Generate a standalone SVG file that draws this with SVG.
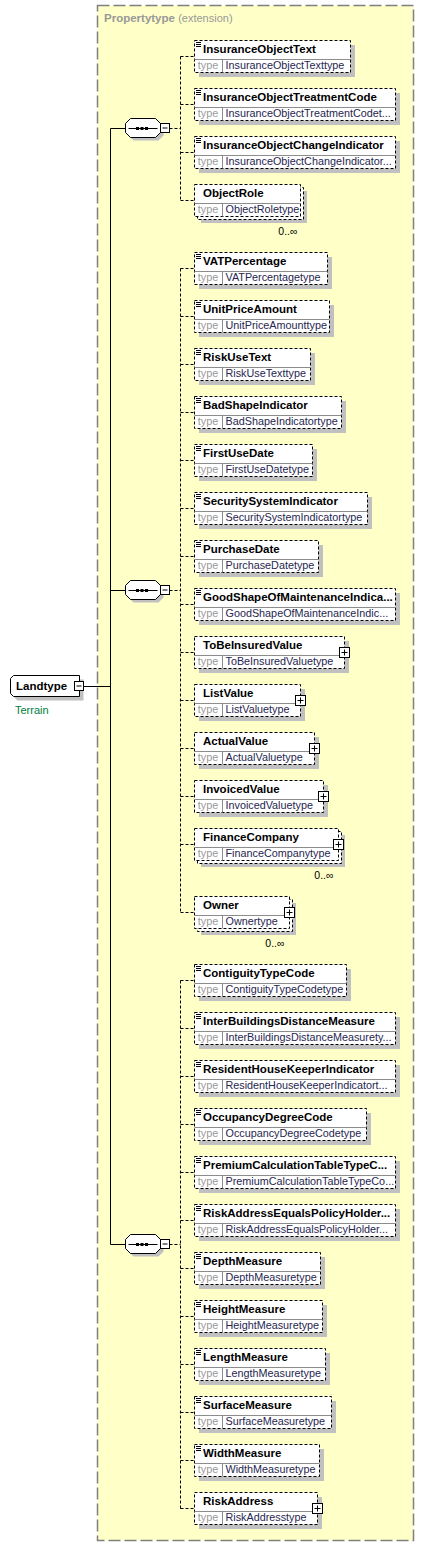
<svg xmlns="http://www.w3.org/2000/svg" xmlns:xlink="http://www.w3.org/1999/xlink" width="424" height="1547" viewBox="0 0 424 1547">
<style>
.sh{fill:#c0c0c0}
.bx{fill:#fff;stroke:#000;stroke-dasharray:3 2}
.dv{stroke:#8c8c8c;fill:none}
.nm{font:bold 11.5px "Liberation Sans",Arial,sans-serif;fill:#000}
.tl{font:10.8px "Liberation Sans",Arial,sans-serif;fill:#9a9a9a;text-anchor:middle}
.tv{font:10.8px "Liberation Sans",Arial,sans-serif;fill:#262650}
.pl{fill:#fff;stroke:#000}
.oc{font:10.5px "Liberation Sans",Arial,sans-serif;fill:#000;text-anchor:end}
.sol{stroke:#000;fill:none}
.dsh{stroke:#000;fill:none;stroke-dasharray:3 2}
</style>
<defs>
<path id="ico" d="M1.5 2H6.5M1.5 4H6.5M1.5 6H6.5" stroke="#000"/>
<g id="plus"><rect class="pl" x="-5" y="-5" width="10" height="10"/><path d="M-3 0H3M0 -3V3" stroke="#000"/></g>
<g id="seq">
<path class="sh" d="M8 -7H33L38 -2V7L33 12H8L3 7V-2Z"/>
<path d="M5 -10H30L35 -5V4L30 9H5L0 4V-5Z" fill="#fff" stroke="#000"/>
<path d="M3 0H32" stroke="#000"/>
<rect x="10.5" y="-1.5" width="3" height="3" fill="#000"/><rect x="15" y="-1.5" width="3" height="3" fill="#000"/><rect x="19.5" y="-1.5" width="3" height="3" fill="#000"/>
<rect class="pl" x="35" y="-5" width="9" height="9"/><path d="M37 -0.5H42" stroke="#000"/>
</g>
</defs>
<g id="extension">
<rect x="97.5" y="5.5" width="316" height="1535" fill="#ffffc8" stroke="#808080" stroke-width="1.5" stroke-dasharray="12 4"/>
<text x="104" y="22" style="font:bold 11.5px 'Liberation Sans',Arial,sans-serif;fill:#999">Propertytype <tspan style="font-weight:normal;font-size:11px">(extension)</tspan></text>
</g>
<g id="connectors">
<path class="sol" d="M83.5 686.5H110.5M110.5 128.5V1244.5M110.5 128.5H125.5M110.5 590.5H125.5M110.5 1244.5H125.5"/>
<path class="dsh" d="M169.5 128.5H180.5M169.5 590.5H180.5M169.5 1244.5H180.5"/>
<path class="dsh" d="M180.5 56.5V200.5M180.5 56.5H194.5M180.5 104.5H194.5M180.5 152.5H194.5M180.5 200.5H194.5"/>
<path class="dsh" d="M180.5 268.5V912.5M180.5 268.5H194.5M180.5 316.5H194.5M180.5 364.5H194.5M180.5 412.5H194.5M180.5 460.5H194.5M180.5 508.5H194.5M180.5 556.5H194.5M180.5 604.5H194.5M180.5 652.5H194.5M180.5 700.5H194.5M180.5 748.5H194.5M180.5 796.5H194.5M180.5 844.5H194.5M180.5 912.5H194.5"/>
<path class="dsh" d="M180.5 980.5V1508.5M180.5 980.5H194.5M180.5 1028.5H194.5M180.5 1076.5H194.5M180.5 1124.5H194.5M180.5 1172.5H194.5M180.5 1220.5H194.5M180.5 1268.5H194.5M180.5 1316.5H194.5M180.5 1364.5H194.5M180.5 1412.5H194.5M180.5 1460.5H194.5M180.5 1508.5H194.5"/>
</g>
<g id="Landtype">
<path class="sh" d="M17.5 679.5H83.5V700.5H17.5L14.5 697.5V682.5Z"/>
<path d="M13.5 675.5H79.5V696.5H13.5L10.5 693.5V678.5Z" fill="#fff" stroke="#000"/>
<text class="nm" x="16" y="690">Landtype</text>
<rect class="pl" x="74.5" y="681.5" width="9" height="9"/><path d="M76.5 686H81.5" stroke="#000"/>
<text x="15" y="714" style="font:11px 'Liberation Sans',Arial,sans-serif;fill:#008040">Terrain</text>
</g>
<g id="seq1" transform="translate(125.5,128.5)"><use href="#seq"/></g>
<g id="seq2" transform="translate(125.5,590.5)"><use href="#seq"/></g>
<g id="seq3" transform="translate(125.5,1244.5)"><use href="#seq"/></g>

<g id="InsuranceObjectText" transform="translate(194.5,40.5)"><rect class="sh" x="4.5" y="4.5" width="156" height="32"/><rect class="bx" width="156" height="32"/><path class="dv" d="M0 19H156M28 19V32"/><use href="#ico"/><text class="nm" x="8.5" y="12">InsuranceObjectText</text><text class="tl" x="13.5" y="28.5">type</text><text class="tv" x="31" y="28.5">InsuranceObjectTexttype</text></g>
<g id="InsuranceObjectTreatmentCode" transform="translate(194.5,88.5)"><rect class="sh" x="4.5" y="4.5" width="201" height="32"/><rect class="bx" width="201" height="32"/><path class="dv" d="M0 19H201M28 19V32"/><use href="#ico"/><text class="nm" x="8.5" y="12">InsuranceObjectTreatmentCode</text><text class="tl" x="13.5" y="28.5">type</text><text class="tv" x="31" y="28.5">InsuranceObjectTreatmentCodet...</text></g>
<g id="InsuranceObjectChangeIndicator" transform="translate(194.5,136.5)"><rect class="sh" x="4.5" y="4.5" width="201" height="32"/><rect class="bx" width="201" height="32"/><path class="dv" d="M0 19H201M28 19V32"/><use href="#ico"/><text class="nm" x="8.5" y="12">InsuranceObjectChangeIndicator</text><text class="tl" x="13.5" y="28.5">type</text><text class="tv" x="31" y="28.5">InsuranceObjectChangeIndicator...</text></g>
<g id="ObjectRole" transform="translate(194.5,184.5)"><rect class="sh" x="6.5" y="6.5" width="106" height="32"/><rect class="bx" x="3" y="3" width="106" height="32"/><rect class="bx" width="106" height="32"/><path class="dv" d="M0 19H106M28 19V32"/><text class="nm" x="8.5" y="12">ObjectRole</text><text class="tl" x="13.5" y="28.5">type</text><text class="tv" x="31" y="28.5">ObjectRoletype</text><text class="oc" x="103" y="50">0..∞</text></g>

<g id="VATPercentage" transform="translate(194.5,252.5)"><rect class="sh" x="4.5" y="4.5" width="133" height="32"/><rect class="bx" width="133" height="32"/><path class="dv" d="M0 19H133M28 19V32"/><use href="#ico"/><text class="nm" x="8.5" y="12">VATPercentage</text><text class="tl" x="13.5" y="28.5">type</text><text class="tv" x="31" y="28.5">VATPercentagetype</text></g>
<g id="UnitPriceAmount" transform="translate(194.5,300.5)"><rect class="sh" x="4.5" y="4.5" width="135" height="32"/><rect class="bx" width="135" height="32"/><path class="dv" d="M0 19H135M28 19V32"/><use href="#ico"/><text class="nm" x="8.5" y="12">UnitPriceAmount</text><text class="tl" x="13.5" y="28.5">type</text><text class="tv" x="31" y="28.5">UnitPriceAmounttype</text></g>
<g id="RiskUseText" transform="translate(194.5,348.5)"><rect class="sh" x="4.5" y="4.5" width="116" height="32"/><rect class="bx" width="116" height="32"/><path class="dv" d="M0 19H116M28 19V32"/><use href="#ico"/><text class="nm" x="8.5" y="12">RiskUseText</text><text class="tl" x="13.5" y="28.5">type</text><text class="tv" x="31" y="28.5">RiskUseTexttype</text></g>
<g id="BadShapeIndicator" transform="translate(194.5,396.5)"><rect class="sh" x="4.5" y="4.5" width="147" height="32"/><rect class="bx" width="147" height="32"/><path class="dv" d="M0 19H147M28 19V32"/><use href="#ico"/><text class="nm" x="8.5" y="12">BadShapeIndicator</text><text class="tl" x="13.5" y="28.5">type</text><text class="tv" x="31" y="28.5">BadShapeIndicatortype</text></g>
<g id="FirstUseDate" transform="translate(194.5,444.5)"><rect class="sh" x="4.5" y="4.5" width="118" height="32"/><rect class="bx" width="118" height="32"/><path class="dv" d="M0 19H118M28 19V32"/><use href="#ico"/><text class="nm" x="8.5" y="12">FirstUseDate</text><text class="tl" x="13.5" y="28.5">type</text><text class="tv" x="31" y="28.5">FirstUseDatetype</text></g>
<g id="SecuritySystemIndicator" transform="translate(194.5,492.5)"><rect class="sh" x="4.5" y="4.5" width="173" height="32"/><rect class="bx" width="173" height="32"/><path class="dv" d="M0 19H173M28 19V32"/><use href="#ico"/><text class="nm" x="8.5" y="12">SecuritySystemIndicator</text><text class="tl" x="13.5" y="28.5">type</text><text class="tv" x="31" y="28.5">SecuritySystemIndicatortype</text></g>
<g id="PurchaseDate" transform="translate(194.5,540.5)"><rect class="sh" x="4.5" y="4.5" width="124" height="32"/><rect class="bx" width="124" height="32"/><path class="dv" d="M0 19H124M28 19V32"/><use href="#ico"/><text class="nm" x="8.5" y="12">PurchaseDate</text><text class="tl" x="13.5" y="28.5">type</text><text class="tv" x="31" y="28.5">PurchaseDatetype</text></g>
<g id="GoodShapeOfMaintenanceIndicator" transform="translate(194.5,588.5)"><rect class="sh" x="4.5" y="4.5" width="201" height="32"/><rect class="bx" width="201" height="32"/><path class="dv" d="M0 19H201M28 19V32"/><use href="#ico"/><text class="nm" x="8.5" y="12">GoodShapeOfMaintenanceIndica...</text><text class="tl" x="13.5" y="28.5">type</text><text class="tv" x="31" y="28.5">GoodShapeOfMaintenanceIndic...</text></g>
<g id="ToBeInsuredValue" transform="translate(194.5,636.5)"><rect class="sh" x="4.5" y="4.5" width="150" height="32"/><rect class="bx" width="150" height="32"/><path class="dv" d="M0 19H150M28 19V32"/><text class="nm" x="8.5" y="12">ToBeInsuredValue</text><text class="tl" x="13.5" y="28.5">type</text><text class="tv" x="31" y="28.5">ToBeInsuredValuetype</text><use href="#plus" x="150" y="16"/></g>
<g id="ListValue" transform="translate(194.5,684.5)"><rect class="sh" x="4.5" y="4.5" width="106" height="32"/><rect class="bx" width="106" height="32"/><path class="dv" d="M0 19H106M28 19V32"/><text class="nm" x="8.5" y="12">ListValue</text><text class="tl" x="13.5" y="28.5">type</text><text class="tv" x="31" y="28.5">ListValuetype</text><use href="#plus" x="106" y="16"/></g>
<g id="ActualValue" transform="translate(194.5,732.5)"><rect class="sh" x="4.5" y="4.5" width="120" height="32"/><rect class="bx" width="120" height="32"/><path class="dv" d="M0 19H120M28 19V32"/><text class="nm" x="8.5" y="12">ActualValue</text><text class="tl" x="13.5" y="28.5">type</text><text class="tv" x="31" y="28.5">ActualValuetype</text><use href="#plus" x="120" y="16"/></g>
<g id="InvoicedValue" transform="translate(194.5,780.5)"><rect class="sh" x="4.5" y="4.5" width="129" height="32"/><rect class="bx" width="129" height="32"/><path class="dv" d="M0 19H129M28 19V32"/><text class="nm" x="8.5" y="12">InvoicedValue</text><text class="tl" x="13.5" y="28.5">type</text><text class="tv" x="31" y="28.5">InvoicedValuetype</text><use href="#plus" x="129" y="16"/></g>
<g id="FinanceCompany" transform="translate(194.5,828.5)"><rect class="sh" x="6.5" y="6.5" width="144" height="32"/><rect class="bx" x="3" y="3" width="144" height="32"/><rect class="bx" width="144" height="32"/><path class="dv" d="M0 19H144M28 19V32"/><text class="nm" x="8.5" y="12">FinanceCompany</text><text class="tl" x="13.5" y="28.5">type</text><text class="tv" x="31" y="28.5">FinanceCompanytype</text><use href="#plus" x="144" y="16"/><text class="oc" x="139" y="50">0..∞</text></g>
<g id="Owner" transform="translate(194.5,896.5)"><rect class="sh" x="6.5" y="6.5" width="95" height="32"/><rect class="bx" x="3" y="3" width="95" height="32"/><rect class="bx" width="95" height="32"/><path class="dv" d="M0 19H95M28 19V32"/><text class="nm" x="8.5" y="12">Owner</text><text class="tl" x="13.5" y="28.5">type</text><text class="tv" x="31" y="28.5">Ownertype</text><use href="#plus" x="95" y="16"/><text class="oc" x="90" y="50">0..∞</text></g>

<g id="ContiguityTypeCode" transform="translate(194.5,964.5)"><rect class="sh" x="4.5" y="4.5" width="152" height="32"/><rect class="bx" width="152" height="32"/><path class="dv" d="M0 19H152M28 19V32"/><use href="#ico"/><text class="nm" x="8.5" y="12">ContiguityTypeCode</text><text class="tl" x="13.5" y="28.5">type</text><text class="tv" x="31" y="28.5">ContiguityTypeCodetype</text></g>
<g id="InterBuildingsDistanceMeasure" transform="translate(194.5,1012.5)"><rect class="sh" x="4.5" y="4.5" width="201" height="32"/><rect class="bx" width="201" height="32"/><path class="dv" d="M0 19H201M28 19V32"/><use href="#ico"/><text class="nm" x="8.5" y="12">InterBuildingsDistanceMeasure</text><text class="tl" x="13.5" y="28.5">type</text><text class="tv" x="31" y="28.5">InterBuildingsDistanceMeasurety...</text></g>
<g id="ResidentHouseKeeperIndicator" transform="translate(194.5,1060.5)"><rect class="sh" x="4.5" y="4.5" width="201" height="32"/><rect class="bx" width="201" height="32"/><path class="dv" d="M0 19H201M28 19V32"/><use href="#ico"/><text class="nm" x="8.5" y="12">ResidentHouseKeeperIndicator</text><text class="tl" x="13.5" y="28.5">type</text><text class="tv" x="31" y="28.5">ResidentHouseKeeperIndicatort...</text></g>
<g id="OccupancyDegreeCode" transform="translate(194.5,1108.5)"><rect class="sh" x="4.5" y="4.5" width="172" height="32"/><rect class="bx" width="172" height="32"/><path class="dv" d="M0 19H172M28 19V32"/><use href="#ico"/><text class="nm" x="8.5" y="12">OccupancyDegreeCode</text><text class="tl" x="13.5" y="28.5">type</text><text class="tv" x="31" y="28.5">OccupancyDegreeCodetype</text></g>
<g id="PremiumCalculationTableTypeCode" transform="translate(194.5,1156.5)"><rect class="sh" x="4.5" y="4.5" width="201" height="32"/><rect class="bx" width="201" height="32"/><path class="dv" d="M0 19H201M28 19V32"/><use href="#ico"/><text class="nm" x="8.5" y="12">PremiumCalculationTableTypeC...</text><text class="tl" x="13.5" y="28.5">type</text><text class="tv" x="31" y="28.5">PremiumCalculationTableTypeCo...</text></g>
<g id="RiskAddressEqualsPolicyHolder" transform="translate(194.5,1204.5)"><rect class="sh" x="4.5" y="4.5" width="201" height="32"/><rect class="bx" width="201" height="32"/><path class="dv" d="M0 19H201M28 19V32"/><use href="#ico"/><text class="nm" x="8.5" y="12">RiskAddressEqualsPolicyHolder...</text><text class="tl" x="13.5" y="28.5">type</text><text class="tv" x="31" y="28.5">RiskAddressEqualsPolicyHolder...</text></g>
<g id="DepthMeasure" transform="translate(194.5,1252.5)"><rect class="sh" x="4.5" y="4.5" width="126" height="32"/><rect class="bx" width="126" height="32"/><path class="dv" d="M0 19H126M28 19V32"/><use href="#ico"/><text class="nm" x="8.5" y="12">DepthMeasure</text><text class="tl" x="13.5" y="28.5">type</text><text class="tv" x="31" y="28.5">DepthMeasuretype</text></g>
<g id="HeightMeasure" transform="translate(194.5,1300.5)"><rect class="sh" x="4.5" y="4.5" width="128" height="32"/><rect class="bx" width="128" height="32"/><path class="dv" d="M0 19H128M28 19V32"/><use href="#ico"/><text class="nm" x="8.5" y="12">HeightMeasure</text><text class="tl" x="13.5" y="28.5">type</text><text class="tv" x="31" y="28.5">HeightMeasuretype</text></g>
<g id="LengthMeasure" transform="translate(194.5,1348.5)"><rect class="sh" x="4.5" y="4.5" width="131" height="32"/><rect class="bx" width="131" height="32"/><path class="dv" d="M0 19H131M28 19V32"/><use href="#ico"/><text class="nm" x="8.5" y="12">LengthMeasure</text><text class="tl" x="13.5" y="28.5">type</text><text class="tv" x="31" y="28.5">LengthMeasuretype</text></g>
<g id="SurfaceMeasure" transform="translate(194.5,1396.5)"><rect class="sh" x="4.5" y="4.5" width="137" height="32"/><rect class="bx" width="137" height="32"/><path class="dv" d="M0 19H137M28 19V32"/><use href="#ico"/><text class="nm" x="8.5" y="12">SurfaceMeasure</text><text class="tl" x="13.5" y="28.5">type</text><text class="tv" x="31" y="28.5">SurfaceMeasuretype</text></g>
<g id="WidthMeasure" transform="translate(194.5,1444.5)"><rect class="sh" x="4.5" y="4.5" width="125" height="32"/><rect class="bx" width="125" height="32"/><path class="dv" d="M0 19H125M28 19V32"/><use href="#ico"/><text class="nm" x="8.5" y="12">WidthMeasure</text><text class="tl" x="13.5" y="28.5">type</text><text class="tv" x="31" y="28.5">WidthMeasuretype</text></g>
<g id="RiskAddress" transform="translate(194.5,1492.5)"><rect class="sh" x="4.5" y="4.5" width="123" height="32"/><rect class="bx" width="123" height="32"/><path class="dv" d="M0 19H123M28 19V32"/><text class="nm" x="8.5" y="12">RiskAddress</text><text class="tl" x="13.5" y="28.5">type</text><text class="tv" x="31" y="28.5">RiskAddresstype</text><use href="#plus" x="123" y="16"/></g>
</svg>
